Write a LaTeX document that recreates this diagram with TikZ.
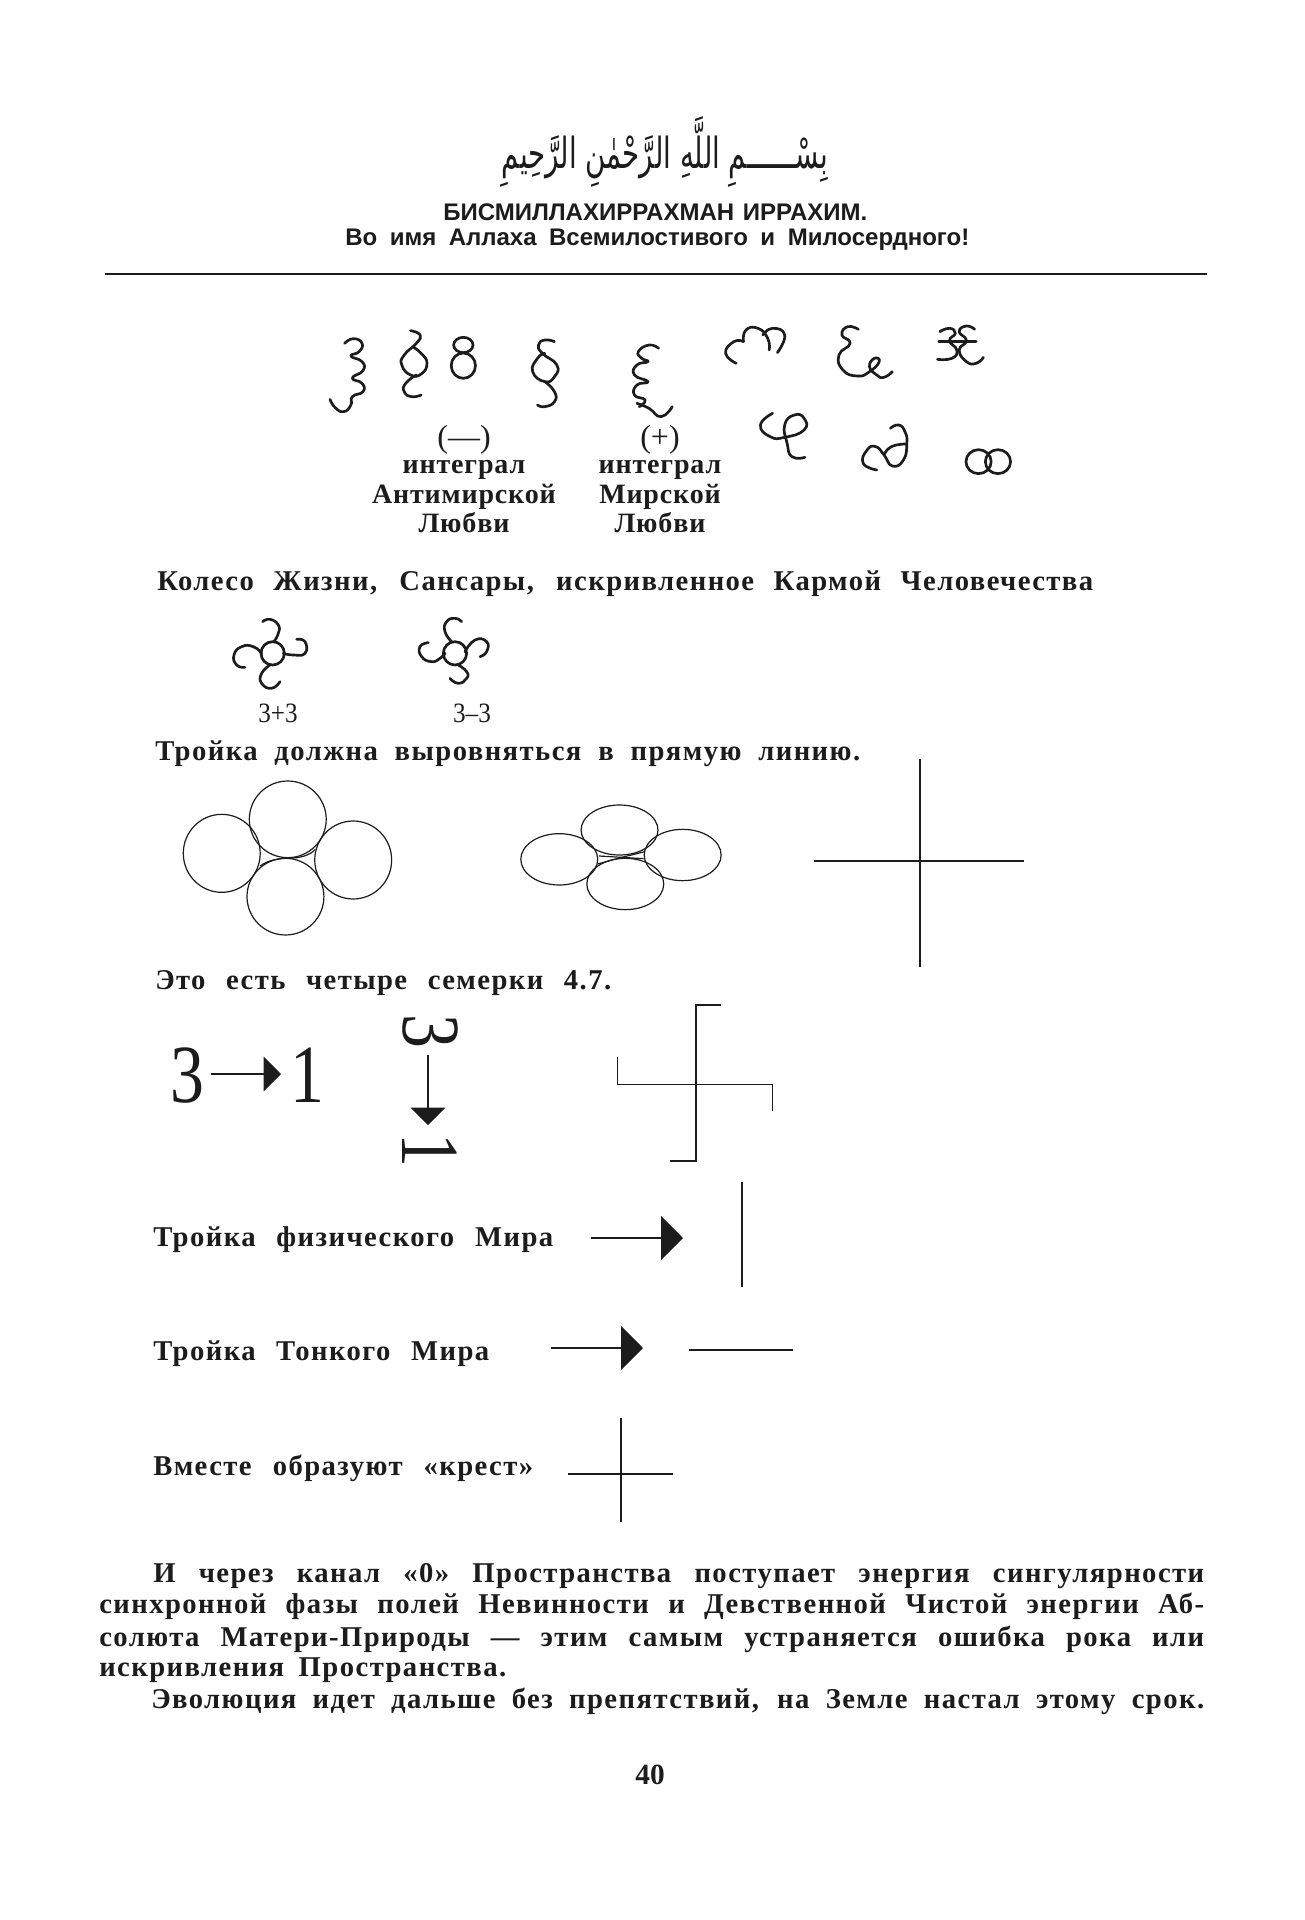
\documentclass[tikz,border=0pt]{standalone}
\usepackage{fontspec}
\usepackage{graphicx}
\usetikzlibrary{arrows.meta}
\TeXXeTstate=1
\setmainfont{Liberation Serif}
\newfontfamily\bodyf[LetterSpace=5]{Liberation Serif}
\newfontfamily\capf[LetterSpace=3]{Liberation Serif}
\newfontfamily\plainf{Liberation Serif}
\newfontfamily\headf{Liberation Sans}
\newfontfamily\arabicf[Script=Arabic]{DejaVu Sans}
\definecolor{ink}{HTML}{1C1C1C}
\newcommand\bodyt{\bodyf\bfseries\fontsize{21.5}{24}\selectfont}
\newcommand\fitline[5]{\node[txt] (#1) at (#2,#3) {\bodyt\makebox[\dimexpr #4pt*3/4\relax][s]{#5}};}
\newcommand\headline[5]{\node[txt] (#1) at (#2,#3) {\headf\bfseries\fontsize{18}{20}\selectfont\makebox[\dimexpr #4pt*3/4\relax][s]{#5}};}
\newcommand\gly[1]{\draw[gl] plot[smooth,tension=0.9] coordinates {#1};}
\tikzset{
  txt/.style={anchor=base west,inner sep=0pt,text=ink},
  ctr/.style={anchor=base,inner sep=0pt,text=ink,font=\capf\bfseries\fontsize{21}{22}\selectfont},
  paren/.style={anchor=base,inner sep=0pt,text=ink,font=\plainf\fontsize{24}{24}\selectfont},
  pagenum/.style={anchor=base,inner sep=0pt,text=ink,font=\plainf\bfseries\fontsize{22}{24}\selectfont},
  small3/.style={anchor=base,inner sep=0pt,text=ink,font=\plainf\fontsize{21}{21}\selectfont,xscale=0.9},
  big/.style={anchor=base,inner sep=0pt,text=ink,font=\plainf\fontsize{62}{62}\selectfont,xscale=0.82},
  bigr/.style={anchor=center,inner sep=0pt,text=ink,font=\plainf\fontsize{62}{62}\selectfont,rotate=-90,xscale=0.82},
  gl/.style={draw=ink,line width=2pt,line cap=round,line join=round},
  circ/.style={draw=ink,line width=0.9pt},
  thin/.style={draw=ink,line width=0.8pt},
  bigarrow/.style={draw=ink,line width=1.5pt,-{Triangle[length=16.5pt,width=33pt,fill=ink]}},
  smallarrow/.style={draw=ink,line width=1.1pt,-{Triangle[length=13pt,width=26pt,fill=ink]}},
}
\begin{document}
\begin{tikzpicture}[x=0.75pt,y=-0.75pt]
\useasboundingbox (0,0) rectangle (1304,1920);
\fill[white] (0,0) rectangle (1304,1920);
% header
\node[inner sep=0pt,text=ink] (arab) at (665,152) {\resizebox*{245pt}{53pt}{\arabicf\beginR بِسْــــــمِ اللَّهِ الرَّحْمٰنِ الرَّحِيمِ\endR}};
\headline{h1}{443}{220}{424}{БИСМИЛЛАХИРРАХМАН ИРРАХИМ.}
\headline{h2}{345}{245}{624}{Во имя Аллаха Всемилостивого и Милосердного!}
\coordinate (ruleL) at (105,274);
\coordinate (ruleR) at (1207,274);
\draw[thin,line width=1pt] (ruleL) -- (ruleR);
% glyphs row
\begin{scope}[shift={(300,300)},xscale=0.4847,yscale=0.3333]
\gly{(92,130)(110,116)(128,130)(122,155)(105,168)(128,185)(130,212)(108,234)(128,250)(130,275)(108,290)(105,315)(90,335)(72,322)(62,298)}
\gly{(228,92)(248,105)(240,130)(215,165)(210,195)(228,225)(250,222)(262,190)(250,160)(232,140)}
\gly{(240,225)(218,250)(215,275)(230,290)(250,285)}
\draw[gl] (337,135) ellipse (20 and 23);
\draw[gl] (337,197) ellipse (25 and 38);
\gly{(525,125)(505,120)(492,135)(500,160)(530,195)(525,230)(505,245)(480,215)(490,175)(505,160)}
\gly{(505,245)(525,275)(525,305)(505,320)(490,315)}
\gly{(740,145)(720,135)(698,155)(705,175)(718,185)(695,195)(690,225)(718,245)(695,255)(690,285)(712,300)(700,320)}
\gly{(695,310)(720,325)(745,350)(768,320)}
\gly{(900,190)(878,160)(895,125)(915,125)}
\gly{(915,125)(920,90)(945,85)(965,115)(968,150)}
\gly{(955,105)(975,85)(1000,105)(985,158)}
\gly{(1152,88)(1130,80)(1118,105)(1135,130)(1112,165)(1120,210)(1150,228)(1175,215)(1195,185)(1185,175)(1175,200)(1190,225)(1205,232)(1222,215)}
\gly{(1320,95)(1340,85)(1352,100)(1340,122)(1355,150)(1345,175)(1315,178)}
\gly{(1392,88)(1375,78)(1360,95)(1375,122)(1360,150)(1375,185)(1395,190)(1410,172)}
\gly{(1318,125)(1350,125)(1395,125)}
\gly{(975,340)(950,375)(970,410)(1000,412)(1040,390)(1040,355)(1020,345)(1000,375)(1005,430)(1015,470)(1042,472)}
\gly{(1190,510)(1162,490)(1170,450)(1188,440)(1205,465)(1222,498)(1245,480)(1252,430)(1248,395)(1235,375)(1218,385)}
\gly{(1205,465)(1220,440)(1250,432)}
\draw[gl] (1400,485) ellipse (26 and 36);
\draw[gl] (1440,485) ellipse (26 and 36);
\end{scope}
% captions
\node[paren] (m0) at (464,447) {(—)};
\node[ctr] (m1) at (464,473) {интеграл};
\node[ctr] (m2) at (464,503) {Антимирской};
\node[ctr] (m3) at (464,532) {Любви};
\node[paren] (p0) at (660,447) {(+)};
\node[ctr] (p1) at (660,473) {интеграл};
\node[ctr] (p2) at (660,503) {Мирской};
\node[ctr] (p3) at (660,532) {Любви};
\fitline{t1}{157}{590}{936}{Колесо Жизни, Сансары, искривленное Кармой Человечества}
% wheels
\begin{scope}[shift={(150,590)},scale=0.3333]
\draw[gl] (368,190) circle (35);
\gly{(372,155)(385,130)(385,105)(360,88)(338,95)}
\gly{(335,190)(310,170)(275,170)(252,195)(260,225)(285,232)}
\gly{(400,190)(430,195)(465,190)(465,155)(440,148)}
\gly{(360,225)(335,250)(335,280)(365,295)(390,275)}
\draw[gl] (915,190) circle (35);
\gly{(905,155)(885,125)(890,95)(915,85)(935,95)}
\gly{(885,190)(870,205)(845,215)(815,200)(810,170)(835,158)}
\gly{(945,185)(975,150)(1010,155)(1010,185)(990,200)}
\gly{(925,225)(950,245)(950,265)(925,280)(900,265)}
\end{scope}
\node[small3] (w1) at (278,722) {3+3};
\node[small3] (w2) at (472,722) {3–3};
\fitline{t2}{155}{760}{705}{Тройка должна выровняться в прямую линию.}
% flowers
\begin{scope}[shift={(150,760)},xscale=0.574,yscale=0.3333]
\draw[circ] (240,178) ellipse (67 and 115);
\draw[circ] (125,280) ellipse (67 and 117);
\draw[circ] (354,300) ellipse (67 and 117);
\draw[circ] (236,410) ellipse (67 and 115);
\draw[circ] (192,318) .. controls (205,300) and (225,296) .. (240,294) .. controls (260,296) and (280,285) .. (288,268);
\draw[circ] (818,210) ellipse (67 and 75);
\draw[circ] (713,298) ellipse (67 and 77);
\draw[circ] (928,285) ellipse (67 and 77);
\draw[circ] (828,372) ellipse (67 and 77);
\draw[circ] (780,312) -- (822,292) -- (862,275);
\draw[circ] (782,288) -- (860,296);
\end{scope}
\coordinate (cvT) at (920,759);
\coordinate (cvB) at (920,967);
\coordinate (chL) at (814,861);
\coordinate (chR) at (1024,861);
\draw[thin] (cvT) -- (cvB);
\draw[thin] (chL) -- (chR);
\fitline{t3}{155}{989}{456}{Это есть четыре семерки 4.7.}
% 3 -> 1
\node[big] (three) at (187,1102) {3};
\node[big] (one) at (307,1102) {1};
\coordinate (aS) at (211,1074);
\coordinate (aE) at (281,1074);
\draw[smallarrow] (aS) -- (aE);
\node[bigr] (three2) at (430,1031) {3};
\node[bigr] (one2) at (430,1150) {1};
\coordinate (vS) at (428,1055);
\coordinate (vE) at (428,1125);
\draw[smallarrow] (vS) -- (vE);
% hooked cross
\begin{scope}[shift={(150,1000)},xscale=0.4146,yscale=0.3333]
\draw[thin,line width=1pt] (1378,15) -- (1317,15) -- (1317,483) -- (1255,483);
\draw[thin,line width=1pt] (1127,172) -- (1127,253) -- (1502,253) -- (1502,332);
\end{scope}
% rows
\fitline{t4}{153}{1246}{400}{Тройка физического Мира}
\coordinate (r1S) at (591,1238);
\coordinate (r1E) at (683,1238);
\draw[bigarrow] (r1S) -- (r1E);
\coordinate (l1T) at (742,1182);
\coordinate (l1B) at (742,1287);
\draw[thin] (l1T) -- (l1B);
\fitline{t5}{153}{1360}{336}{Тройка Тонкого Мира}
\coordinate (r2S) at (551,1348);
\coordinate (r2E) at (643,1348);
\draw[bigarrow] (r2S) -- (r2E);
\coordinate (l2L) at (689,1350);
\coordinate (l2R) at (793,1350);
\draw[thin] (l2L) -- (l2R);
\fitline{t6}{153}{1475}{380}{Вместе образуют «крест»}
\coordinate (c3T) at (621,1418);
\coordinate (c3B) at (621,1522);
\coordinate (c3L) at (568,1474);
\coordinate (c3R) at (673,1474);
\draw[thin] (c3T) -- (c3B);
\draw[thin] (c3L) -- (c3R);
% paragraph
\fitline{b1}{153}{1582}{1051}{И через канал «0» Пространства поступает энергия сингулярности}
\fitline{b2}{99}{1613}{1105}{синхронной фазы полей Невинности и Девственной Чистой энергии Аб-}
\fitline{b3}{99}{1646}{1105}{солюта Матери-Природы — этим самым устраняется ошибка рока или}
\fitline{b4}{99}{1676}{407}{искривления Пространства.}
\fitline{b5}{151}{1708}{1053}{Эволюция идет дальше без препятствий, на Земле настал этому срок.}
\node[pagenum] (page) at (650,1784) {40};
\end{tikzpicture}
\end{document}
